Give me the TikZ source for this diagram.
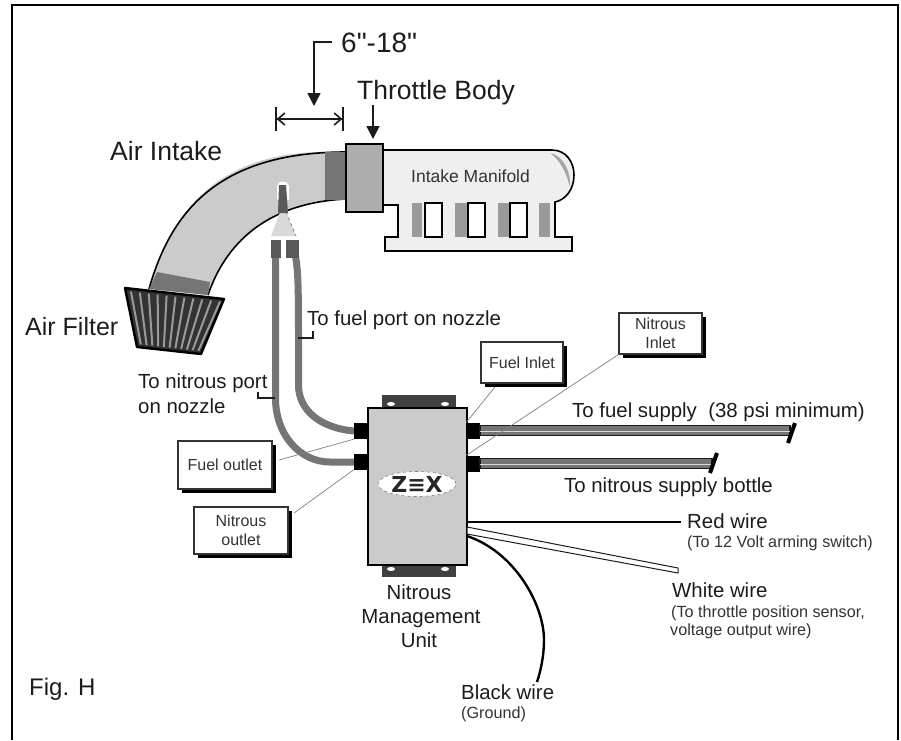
\documentclass[tikz,border=0pt]{standalone}
\usepackage{fontspec}
\setmainfont{Liberation Sans}
\newfontfamily\logofont{DejaVu Sans}
\newfontfamily\straightfont[Ligatures=NoCommon]{Liberation Sans}
\usetikzlibrary{arrows.meta,calc,shadows,shapes.geometric}
\definecolor{ink}{HTML}{1c1c1c}
\definecolor{soft}{HTML}{333333}
\definecolor{tube}{HTML}{CBCBCB}
\definecolor{collar}{HTML}{757575}
\definecolor{bar}{HTML}{9A9A9A}
\definecolor{mani}{HTML}{EFEFEF}
\definecolor{hose}{HTML}{757575}
\tikzset{
  big/.style={inner sep=0pt,anchor=base west,text=ink,font=\fontsize{26.5}{30}\selectfont},
  mid/.style={inner sep=0pt,anchor=base west,text=ink,font=\fontsize{20.4}{24}\selectfont},
  small/.style={inner sep=0pt,anchor=base west,text=soft,font=\fontsize{16.2}{19}\selectfont},
  tagbox/.style={draw=soft,line width=1.2pt,fill=white,text=soft,align=center,inner sep=0pt,
    font=\fontsize{16}{19}\selectfont,
    drop shadow={shadow xshift=3.5pt,shadow yshift=-3.5pt,opacity=1,fill=black}},
  port/.style={fill=black,inner sep=0pt},
  leader/.style={draw=gray,line width=0.7pt},
  hook/.style={draw=ink,line width=1.4pt},
  outline/.style={draw=black,line width=1.6pt},
  hosepipe/.style={draw=hose,line width=7pt},
  pointer/.style={draw=ink,line width=1.6pt,-{Triangle[width=13pt,length=13pt]}},
  supply/.style={fill=hose,draw=ink,line width=1.2pt},
  slash/.style={draw=black,line width=4pt},
}
\begin{document}
\begin{tikzpicture}[x=1pt,y=-1pt]
\useasboundingbox (0,0) rectangle (901,740);
% frame
\draw[black,line width=2pt] (12,740) -- (12,5) -- (898,5) -- (898,740);

% air intake
\fill[tube] (149,289) .. controls (170,215) and (215,152) .. (325,152) -- (346,152) -- (346,199)
  .. controls (265,203) and (225,245) .. (208,295) -- cycle;
\draw[outline] (149,289) .. controls (170,215) and (215,152) .. (346,152);
\draw[outline] (208,295) .. controls (225,245) and (265,203) .. (346,199);
\fill[collar] (325,152) rectangle (346,200);
\fill[collar] (157,272) -- (210,282) -- (208,295) -- (149,289) -- cycle;

% manifold
\draw[outline,fill=mani] (383,150) -- (552,150) .. controls (566,150) and (574,162) .. (574,175)
  .. controls (574,190) and (565,200) .. (555,202) -- (555,237) -- (572,237) -- (572,251)
  -- (385,251) -- (385,237) -- (398,237) -- (398,205) -- (383,205) -- cycle;
\fill[gray!70] (550,153) .. controls (564,156) and (571,172) .. (570,187) .. controls (566,172) and (560,160) .. cycle;
\foreach \xa/\xb in {412/422,455/467,498/509,539/550}
  \fill[bar] (\xa,203) rectangle (\xb,237);
\foreach \xa/\xb in {425/442,468/485,510/527}
  \draw[line width=1.4pt,fill=white] (\xa,203) rectangle (\xb,237);
\node[inner sep=0pt,anchor=base west,text=soft,font=\fontsize{17.5}{20}\selectfont] (manifold) at (411,182) {Intake Manifold};
% throttle body
\draw[outline,fill=bar!80!white] (346,144) rectangle (383,212);

% air filter
\coordinate (fa) at (125,288); \coordinate (fb) at (224,299);
\coordinate (fc) at (201,354); \coordinate (fd) at (137,347);
\fill[black!80] (fa) -- (fb) -- (fc) -- (fd) -- cycle;
\foreach \t in {0.06,0.15,...,0.97}
  \draw[bar,line width=2pt] ($(fa)!\t!(fb)+(0,3)$) -- ($(fd)!\t!(fc)-(0,3)$);
\draw[black,line width=2.4pt,line join=round] (fa) -- (fb) -- (fc) -- (fd) -- cycle;

% hoses
\draw[hosepipe] (275.5,250) -- (275.5,398) .. controls (275.5,435) and (300,462) .. (330,462) -- (354,462);
\draw[hosepipe] (294,250) .. controls (298,265) and (298.5,280) .. (298.5,338) -- (298.5,385) .. controls (298.5,410) and (320,428) .. (354,431);
% nozzle
\fill[white] (277,200) -- (277,186) .. controls (278,180) and (288,180) .. (289,186) -- (289,200) -- cycle;
\fill[gray!30] (280,212) -- (286,212) -- (296,236) -- (271,236) -- cycle;
\draw[gray,line width=0.8pt,dashed] (286,212) -- (296,236);
\fill[black!65] (279,185) -- (286,185) -- (288,213) -- (278,213) -- cycle;
\fill[black!65] (271,240) rectangle (281,258);
\fill[black!65] (286,240) rectangle (299,258);

% management unit
\fill[black!75] (382,395) rectangle (456,408);
\fill[black!75] (382,565) rectangle (456,577);
\foreach \hx/\hy in {391/404,445/404,391/569,445/569}
  \fill[white] (\hx,\hy) ellipse (4pt and 2pt);
\node[draw=black,line width=1.8pt,fill=tube,inner sep=0pt,minimum width=99pt,minimum height=157pt] (unit) at (417.5,486.5) {};
\node[draw=gray,dashed,line width=0.6pt,fill=white,ellipse,inner sep=0pt,minimum width=78pt,minimum height=25pt] (logo) at (417,484) {};
\node[inner sep=0pt,text=black!85,font=\logofont\bfseries\fontsize{22}{24}\selectfont] (logotext) at (417,484) {Z≡X};

% ports
\node[port,minimum width=14pt,minimum height=16pt] (pfo) at (361,431) {};
\node[port,minimum width=14pt,minimum height=16pt] (pno) at (361,461.5) {};
\node[port,minimum width=13pt,minimum height=16pt] (pfi) at (473,430.5) {};
\node[port,minimum width=13pt,minimum height=16pt] (pni) at (473,463.5) {};

% supply lines
\coordinate (fs1) at (480,425.5); \coordinate (fs2) at (790,435.5);
\coordinate (ns1) at (480,458.5); \coordinate (ns2) at (712,468.5);
\draw[supply] (fs1) rectangle (fs2);
\draw[supply] (ns1) rectangle (ns2);
\draw[white!70!gray,line width=0.8pt] (480,431.5) -- (790,431.5);
\draw[white!70!gray,line width=0.8pt] (480,464.5) -- (712,464.5);
\coordinate (s1a) at (795,423); \coordinate (s1b) at (788,443);
\coordinate (s2a) at (717,453); \coordinate (s2b) at (710,473);
\draw[slash] (s1a) -- (s1b);
\draw[slash] (s2a) -- (s2b);

% wires
\coordinate (red) at (681,522);
\draw[black,line width=2.6pt] (unit.east |- red) -- (red);
\coordinate (w1) at (467,527); \coordinate (w2) at (467,534); \coordinate (w3) at (678,573);
\draw[fill=white,draw=ink,line width=1pt,line join=round] (w1) -- (678,568) -- (w3) -- (w2) -- cycle;
\coordinate (bs) at (467,536); \coordinate (be) at (537,682);
\draw[black,line width=2.4pt] (bs) .. controls (515,552) and (544,605) .. (544,640) .. controls (544,655) and (541,670) .. (be);

% tag boxes
\node[tagbox,minimum width=94pt,minimum height=48pt] (fo) at (225,465) {Fuel outlet};
\node[tagbox,minimum width=94pt,minimum height=47pt] (no) at (241,530.5) {Nitrous\\outlet};
\node[tagbox,minimum width=82pt,minimum height=41pt] (fin) at (522,362.5) {Fuel Inlet};
\node[tagbox,minimum width=83pt,minimum height=41pt] (nin) at (660.5,333.5) {Nitrous\\Inlet};
\draw[leader] (279,460) -- (pfo.south west);
\draw[leader] (294,513) -- (pno.south west);
\draw[leader] (495,387) -- (pfi.north west);
\draw[leader] (nin.south west) -- (pni.north west);

% dimension and pointers
\coordinate (dl) at (275,119); \coordinate (dr) at (344,119);
\draw[ink,line width=1.6pt,{Bar[width=24pt]Straight Barb[length=7pt,width=12pt]}-{Straight Barb[length=7pt,width=12pt]Bar[width=24pt]}] (dl) -- (dr);
\coordinate (dt) at (332,42); \coordinate (dm) at (314,106);
\draw[pointer] (dt) -| (dm);
\coordinate (tt) at (373,105); \coordinate (tm) at (373,139);
\draw[pointer] (tt) -- (tm);

% hooks
\coordinate (h1a) at (313,331); \coordinate (h1b) at (298,338);
\draw[hook] (h1a) |- (h1b);
\coordinate (h2a) at (258,392); \coordinate (h2b) at (275,398);
\draw[hook] (h2a) |- (h2b);

% labels
\node[big,font=\straightfont\fontsize{28}{30}\selectfont] (dim) at (341,52) {6"-18"};
\node[big] (tb) at (357,99) {Throttle Body};
\node[big] (ai) at (110,160) {Air Intake};
\node[big,font=\fontsize{25}{30}\selectfont] (af) at (25,335) {Air Filter};
\node[mid] (tfp) at (307,325) {To fuel port on nozzle};
\node[mid] (tnp1) at (138,388) {To nitrous port};
\node[mid] (tnp2) at (138,413) {on nozzle};
\node[mid] (tfs) at (572,417) {To fuel supply\ \ (38 psi minimum)};
\node[mid] (tns) at (564,492) {To nitrous supply bottle};
\node[mid] (rw) at (687,528) {Red wire};
\node[small] (rw2) at (687,547) {(To 12 Volt arming switch)};
\node[mid] (ww) at (672,597) {White wire};
\node[small] (ww2) at (671,617) {(To throttle position sensor,};
\node[small] (ww3) at (670,635) {voltage output wire)};
\node[mid,anchor=base] (u1) at (419,599) {Nitrous};
\node[mid,anchor=base] (u2) at (421,623) {Management};
\node[mid,anchor=base] (u3) at (419,647) {Unit};
\node[mid] (bw) at (461,699) {Black wire};
\node[small] (bw2) at (461,718) {(Ground)};
\node[inner sep=0pt,anchor=base west,text=ink,font=\fontsize{24}{28}\selectfont] (fig) at (29,695) {Fig. H};
\end{tikzpicture}
\end{document}
